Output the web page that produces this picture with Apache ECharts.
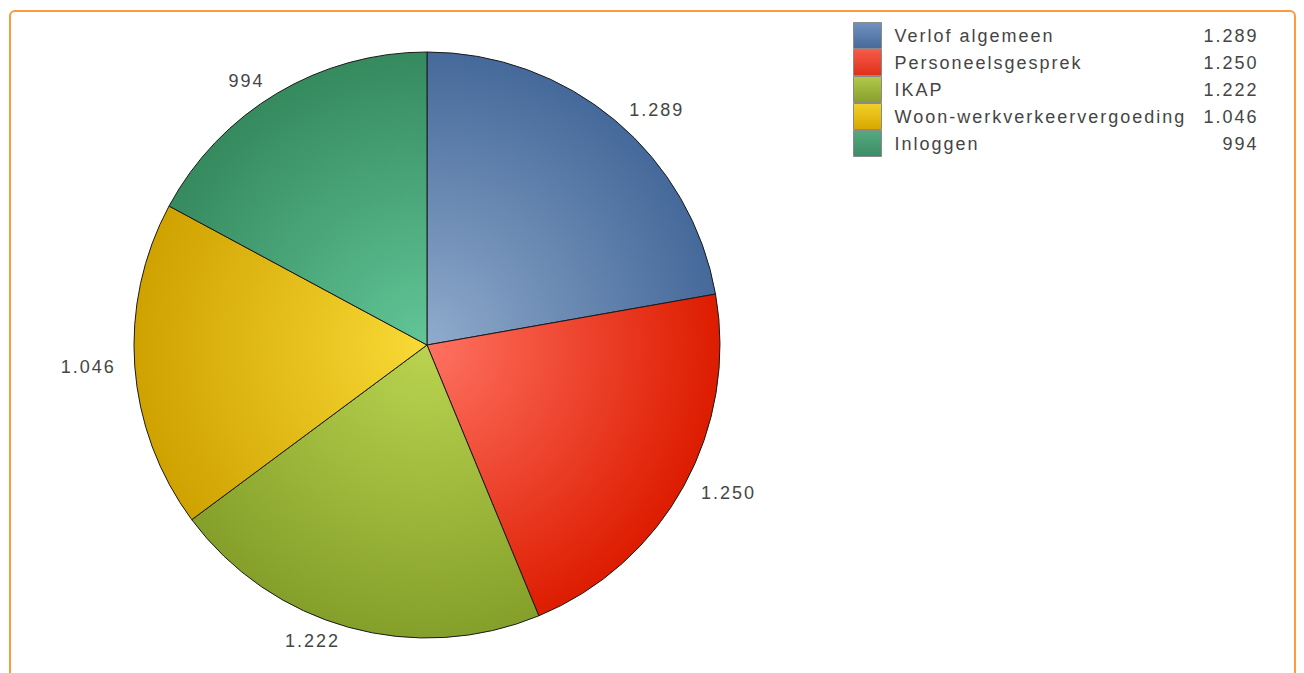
<!DOCTYPE html>
<html>
<head>
<meta charset="utf-8">
<script src="https://cdn.jsdelivr.net/npm/echarts@6/dist/echarts.min.js"></script>
<style>
  html, body { margin: 0; padding: 0; background: #ffffff; }
  #chart { width: 1304px; height: 673px; letter-spacing: 2px; }
</style>
</head>
<body>
<div id="chart"></div>
<script>
// ---- data ----
const categories = ['Verlof algemeen', 'Personeelsgesprek', 'IKAP', 'Woon-werkverkeervergoeding', 'Inloggen'];
const values = [1289, 1250, 1222, 1046, 994];

// ---- styling ----
const sliceLight = ['#90abcc', '#ff7262', '#bad450', '#f9da36', '#62c698'];
const sliceDark  = ['#45699a', '#dd1c00', '#85a02a', '#cfa200', '#358a5e'];
const iconTop    = ['#7192c0', '#f55a48', '#b2c94a', '#f3d02a', '#55aa80'];
const iconBottom = ['#46699a', '#e0301c', '#88a02c', '#d6a800', '#3a8c64'];
const CX = 427, CY = 345, R = 293;
const TEXT = '#454545';
const FONT = '"Liberation Sans", Arial, sans-serif';

function fmt(v) {
  return String(v).replace(/\B(?=(\d{3})+(?!\d))/g, '.');
}

const pieData = categories.map((name, i) => ({
  name: name,
  value: values[i],
  itemStyle: {
    color: {
      type: 'radial', x: CX, y: CY, r: R, global: true,
      colorStops: [{ offset: 0, color: sliceLight[i] }, { offset: 1, color: sliceDark[i] }]
    }
  }
}));

const legendData = categories.map((name, i) => ({
  name: name,
  itemStyle: {
    color: {
      type: 'linear', x: 0, y: 0, x2: 0, y2: 1,
      colorStops: [{ offset: 0, color: iconTop[i] }, { offset: 1, color: iconBottom[i] }]
    },
    borderColor: '#8a8a8a',
    borderWidth: 1
  }
}));

const chart = echarts.init(document.getElementById('chart'), null, { renderer: 'svg' });
chart.setOption({
  animation: false,
  backgroundColor: '#ffffff',
  graphic: [{
    type: 'rect',
    shape: { x: 10, y: 11, width: 1285, height: 720, r: 5 },
    style: { fill: 'none', stroke: '#ff9a3a', lineWidth: 2 },
    silent: true
  }],
  legend: {
    orient: 'vertical',
    left: 853,
    top: 22,
    padding: 0,
    itemWidth: 28,
    itemHeight: 26,
    itemGap: 0,
    itemTextGap: 14,
    icon: 'rect',
    selectedMode: false,
    data: legendData,
    formatter: function (name) {
      const i = categories.indexOf(name);
      return '{n|' + name + '}{v|' + fmt(values[i]) + '}';
    },
    textStyle: {
      fontFamily: FONT,
      fontSize: 18,
      color: TEXT,
      rich: {
        n: { width: 302, padding: [0, 0, 0, 8], fontFamily: FONT, fontSize: 18, color: TEXT, lineHeight: 24 },
        v: { width: 62, align: 'right', fontFamily: FONT, fontSize: 18, color: TEXT, lineHeight: 24 }
      }
    }
  },
  series: [{
    type: 'pie',
    center: [CX, CY],
    radius: [0, R],
    startAngle: 90,
    clockwise: true,
    avoidLabelOverlap: false,
    silent: true,
    itemStyle: { borderColor: '#1a1a1a', borderWidth: 1 },
    label: {
      show: true,
      position: 'outside',
      fontFamily: FONT,
      fontSize: 18,
      color: TEXT,
      distanceToLabelLine: 5,
      formatter: function (p) { return fmt(p.value); }
    },
    labelLine: { show: false, length: 14, length2: 0 },
    emphasis: { disabled: true },
    data: pieData
  }]
});
</script>
</body>
</html>
